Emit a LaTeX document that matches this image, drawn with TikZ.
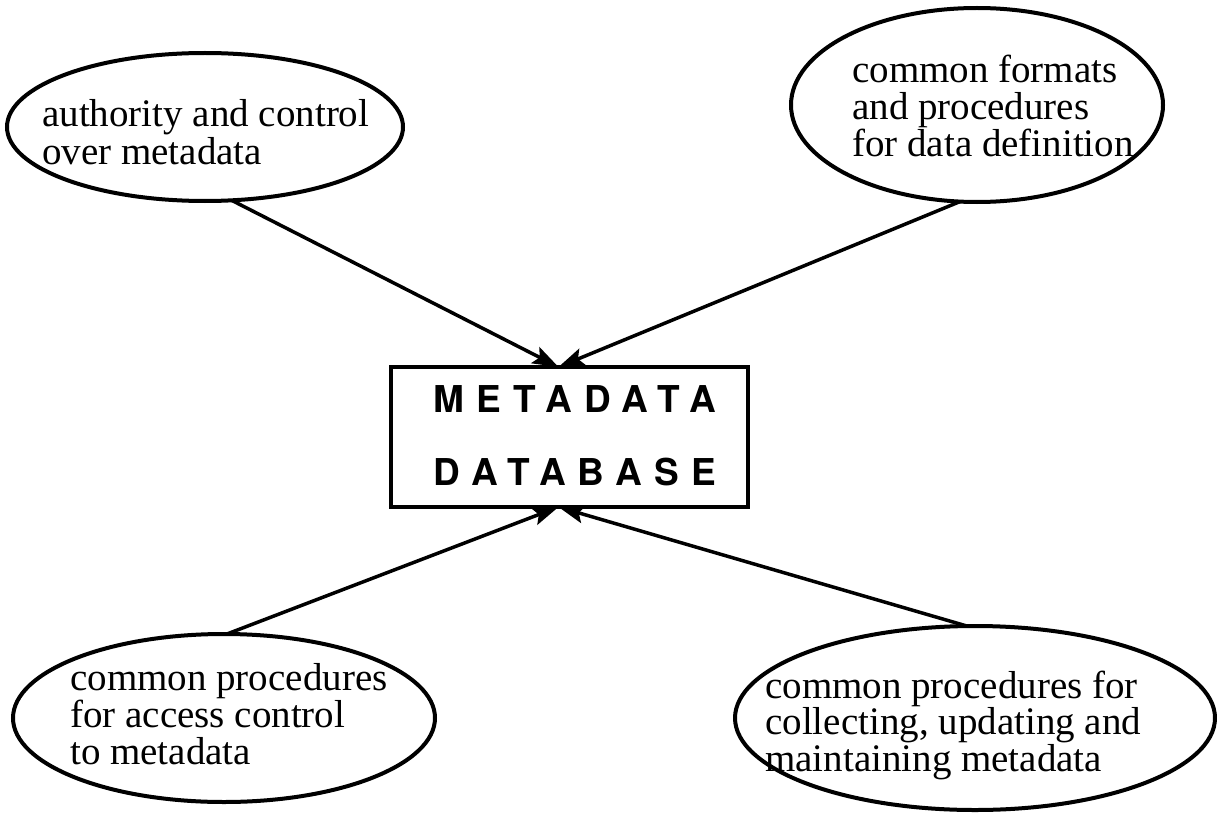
\documentclass[tikz,border=0pt]{standalone}
\usepackage{fontspec}
\setmainfont{Liberation Serif}
\newfontfamily\boxfont[LetterSpace=33]{TeX Gyre Heros}
\usetikzlibrary{shapes.geometric,arrows.meta}
\begin{document}
\begin{tikzpicture}[x=1pt,y=-1pt,
  oval/.style={draw,ellipse,line width=4pt,inner sep=0pt,outer sep=0pt},
  label/.style={anchor=base west,align=left,inner sep=0pt,font=\fontsize{39}{#1}\selectfont},
  dbbox/.style={draw,rectangle,line width=4pt,inner sep=0pt,outer sep=0pt,minimum width=357pt,minimum height=140pt},
  feed/.style={line width=3.5pt,-{Stealth[length=26pt,width=18pt,inset=5pt]}}]
\useasboundingbox (0,0) rectangle (1217,813);
\node[oval,minimum width=396pt,minimum height=148pt] (e1) at (205,127) {};
\node[oval,minimum width=372pt,minimum height=194pt] (e2) at (977,105) {};
\node[oval,minimum width=422pt,minimum height=168pt] (e3) at (224,718) {};
\node[oval,minimum width=480pt,minimum height=184pt] (e4) at (975,718) {};
\node[dbbox] (db) at (569.5,437) {};
\node[label=38pt] (t1) at (42,165) {authority and control\\over metadata};
\node[label=37pt] (t2) at (852,157) {common formats\\and procedures\\for data definition};
\node[label=37pt] (t3) at (70,764) {common procedures\\for access control\\to metadata};
\node[label=34pt] (t4) at (765,771) {common procedures for\\collecting, updating and\\maintaining metadata};
\node[anchor=base,inner sep=0pt,font=\boxfont\bfseries\fontsize{37}{37}\selectfont] (m1) at (575,412) {METADATA};
\node[anchor=base,inner sep=0pt,font=\boxfont\bfseries\fontsize{37}{37}\selectfont] (m2) at (575,485) {DATABASE};
\draw[feed] (e1.-70) -- ([xshift=-11pt]db.north);
\draw[feed] (e2.-100) -- ([xshift=-11pt]db.north);
\draw[feed] (e3.88) -- ([xshift=-11pt]db.south);
\draw[feed] (e4.95) -- ([xshift=-11pt]db.south);
\end{tikzpicture}
\end{document}
